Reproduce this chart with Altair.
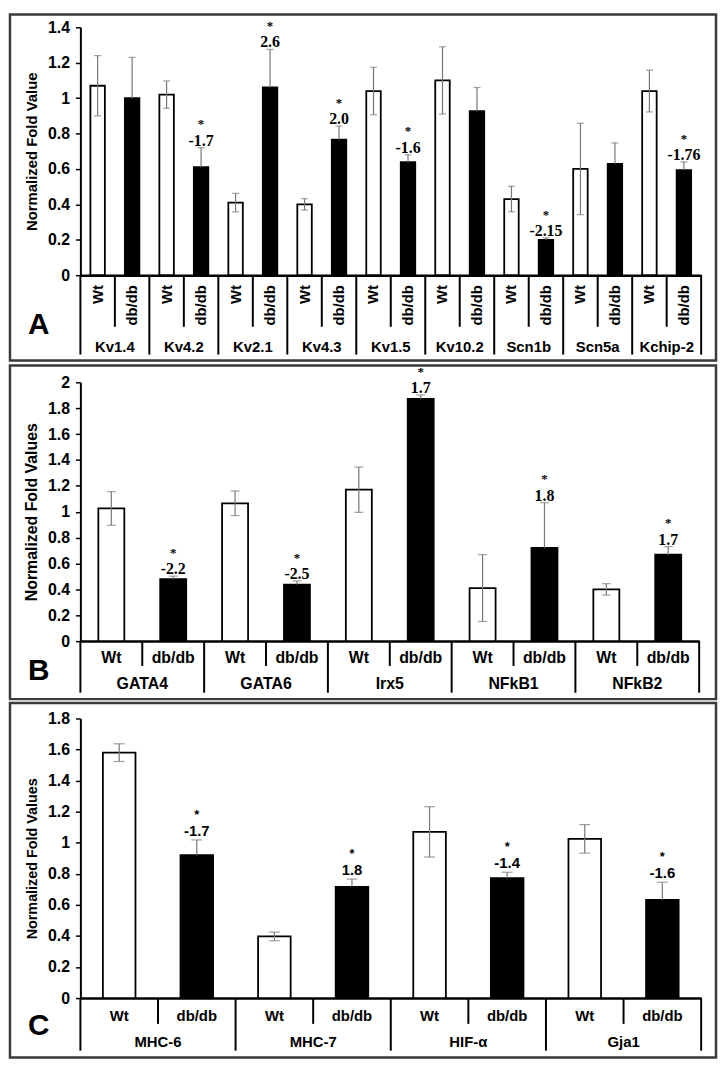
import altair as alt
import pandas as pd

GROUPS = ["Wt", "db/db"]

# ---------------- Panel A ----------------
A_genes = ["Kv1.4", "Kv4.2", "Kv2.1", "Kv4.3", "Kv1.5", "Kv10.2", "Scn1b", "Scn5a", "Kchip-2"]
A_wt = [1.07, 1.02, 0.41, 0.40, 1.04, 1.10, 0.43, 0.60, 1.04]
A_wt_err = [0.17, 0.077, 0.052, 0.032, 0.134, 0.19, 0.072, 0.258, 0.118]
A_db = [1.00, 0.61, 1.06, 0.765, 0.638, 0.926, 0.20, 0.629, 0.594]
A_db_err = [0.23, 0.11, 0.215, 0.077, 0.042, 0.134, 0.011, 0.118, 0.046]
A_fold = ["", "-1.7", "2.6", "2.0", "-1.6", "", "-2.15", "", "-1.76"]
A_ticks = [0, 0.2, 0.4, 0.6, 0.8, 1, 1.2, 1.4]

# ---------------- Panel B ----------------
B_genes = ["GATA4", "GATA6", "Irx5", "NFkB1", "NFkB2"]
B_wt = [1.025, 1.065, 1.17, 0.41, 0.40]
B_wt_err = [0.13, 0.095, 0.175, 0.258, 0.044]
B_db = [0.478, 0.437, 1.872, 0.72, 0.668]
B_db_err = [0.024, 0.028, 0.03, 0.35, 0.062]
B_fold = ["-2.2", "-2.5", "1.7", "1.8", "1.7"]
B_ticks = [0, 0.2, 0.4, 0.6, 0.8, 1, 1.2, 1.4, 1.6, 1.8, 2]

# ---------------- Panel C ----------------
C_genes = ["MHC-6", "MHC-7", "HIF-\u03b1", "Gja1"]
C_wt = [1.58, 0.397, 1.07, 1.025]
C_wt_err = [0.057, 0.028, 0.162, 0.092]
C_db = [0.92, 0.716, 0.772, 0.632]
C_db_err = [0.098, 0.05, 0.038, 0.114]
C_fold = ["-1.7", "1.8", "-1.4", "-1.6"]
C_ticks = [0, 0.2, 0.4, 0.6, 0.8, 1, 1.2, 1.4, 1.6, 1.8]

SANS = "Liberation Sans"
SERIF = "Liberation Serif"
BAR = 0.42  # bar width as fraction of a slot


def build_frames(genes, wt, wt_err, db, db_err, folds):
    rows = []
    for g, gene in enumerate(genes):
        for k, grp in enumerate(GROUPS):
            i = 2 * g + k
            v = wt[g] if k == 0 else db[g]
            e = wt_err[g] if k == 0 else db_err[g]
            f = folds[g] if k == 1 else ""
            rows.append(dict(
                gene=gene, group=grp, center=i + 0.5,
                x0=i + 0.5 - BAR / 2, x1=i + 0.5 + BAR / 2,
                value=v, err=e, upper=v + e,
                lower=(v - e) if k == 0 else v,
                fold=f, star="*" if f else "",
            ))
    bars = pd.DataFrame(rows)
    n = 2 * len(genes)
    divs = pd.DataFrame({"pos": list(range(n + 1)),
                         "kind": ["gene" if p % 2 == 0 else "short" for p in range(n + 1)]})
    gl = pd.DataFrame({"gene": genes, "center": [2 * g + 1 for g in range(len(genes))]})
    return bars, divs, gl, n


def make_panel(genes, wt, wt_err, db, db_err, folds, ticks, cfg):
    bars, divs, gl, n = build_frames(genes, wt, wt_err, db, db_err, folds)
    W, H = cfg["W"], cfg["H"]
    xs = alt.Scale(domain=[0, n], nice=False, zero=False)
    ys = alt.Scale(domain=[0, cfg["ymax"]], nice=False, zero=True)
    xaxis = alt.Axis(domain=True, domainColor="black", domainWidth=2.5, ticks=False,
                     labels=False, grid=False, title=None)
    yaxis = alt.Axis(values=ticks, format="~g", domainColor="black", domainWidth=2,
                     tickColor="black", tickSize=5, tickWidth=1.5, labelPadding=6,
                     labelFont=SANS, labelFontWeight="bold", labelFontSize=16,
                     labelColor="black", title=cfg["title"], titleFont=SANS,
                     titleFontWeight="bold", titleFontSize=cfg["title_size"],
                     titleColor="black", titlePadding=cfg["title_pad"], grid=False)

    base = alt.Chart(bars)
    bar_layer = base.mark_bar(stroke="black", strokeWidth=1.8).encode(
        x=alt.X("x0:Q", scale=xs, axis=xaxis),
        x2="x1:Q",
        y=alt.Y("value:Q", scale=ys, axis=yaxis),
        y2=alt.datum(0),
        fill=alt.Fill("group:N", scale=alt.Scale(domain=GROUPS, range=["white", "black"]),
                      legend=None),
    )
    err = base.mark_rule(color="#777777", strokeWidth=1.2).encode(
        x=alt.X("center:Q", scale=xs, axis=xaxis),
        y=alt.Y("lower:Q", scale=ys, axis=yaxis),
        y2="upper:Q",
    )
    cap_top = base.mark_tick(orient="horizontal", size=cfg["cap"], thickness=1.2,
                             color="#777777").encode(
        x=alt.X("center:Q", scale=xs, axis=xaxis),
        y=alt.Y("upper:Q", scale=ys, axis=yaxis),
    )
    cap_bot = base.mark_tick(orient="horizontal", size=cfg["cap"], thickness=1.2,
                             color="#777777").encode(
        x=alt.X("center:Q", scale=xs, axis=xaxis),
        y=alt.Y("lower:Q", scale=ys, axis=yaxis),
    ).transform_filter(alt.datum.group == "Wt")
    num = base.mark_text(font=cfg["ann_font"], fontSize=cfg["ann_size"], fontWeight="bold",
                         baseline="alphabetic", align="center", dy=cfg["num_dy"],
                         color="black").encode(
        x=alt.X("center:Q", scale=xs, axis=xaxis),
        y=alt.Y("upper:Q", scale=ys, axis=yaxis),
        text="fold:N",
    )
    star = base.mark_text(font=cfg["ann_font"], fontSize=13, fontWeight="bold",
                          baseline="alphabetic", align="center", dy=cfg["star_dy"],
                          color="black").encode(
        x=alt.X("center:Q", scale=xs, axis=xaxis),
        y=alt.Y("upper:Q", scale=ys, axis=yaxis),
        text="star:N",
    )

    dbase = alt.Chart(divs)
    short_div = dbase.mark_rule(color="black", strokeWidth=2).encode(
        x=alt.X("pos:Q", scale=xs, axis=xaxis),
        y=alt.value(H), y2=alt.value(H + cfg["short_len"]),
    ).transform_filter(alt.datum.kind == "short")
    long_div = dbase.mark_rule(color="black", strokeWidth=2).encode(
        x=alt.X("pos:Q", scale=xs, axis=xaxis),
        y=alt.value(H), y2=alt.value(H + cfg["long_len"]),
    ).transform_filter(alt.datum.kind == "gene")

    if cfg["rotated"]:
        grp_text = base.mark_text(font=SANS, fontSize=cfg["grp_size"], fontWeight="bold",
                                  angle=270, align="right", baseline="middle",
                                  color="black").encode(
            x=alt.X("center:Q", scale=xs, axis=xaxis),
            y=alt.value(H + cfg["grp_y"]),
            text="group:N",
        )
    else:
        grp_text = base.mark_text(font=SANS, fontSize=cfg["grp_size"], fontWeight="bold",
                                  align="center", baseline="middle", color="black").encode(
            x=alt.X("center:Q", scale=xs, axis=xaxis),
            y=alt.value(H + cfg["grp_y"]),
            text="group:N",
        )
    gene_text = alt.Chart(gl).mark_text(font=SANS, fontSize=cfg["gene_size"], fontWeight="bold",
                                        align="center", baseline="middle",
                                        color="black").encode(
        x=alt.X("center:Q", scale=xs, axis=xaxis),
        y=alt.value(H + cfg["gene_y"]),
        text="gene:N",
    )

    one = alt.Chart(pd.DataFrame({"letter": [cfg["letter"]]}))
    letter = one.mark_text(font=SANS, fontSize=30, fontWeight="bold", align="center",
                           baseline="middle", color="black").encode(
        x=alt.value(cfg["letter_x"]), y=alt.value(cfg["letter_y"]), text="letter:N")
    border = one.mark_rect(fillOpacity=0, stroke="#3a3a3a", strokeWidth=2.5).encode(
        x=alt.value(-71), x2=alt.value(641),
        y=alt.value(cfg["b_top"]), y2=alt.value(cfg["b_bot"]))

    return alt.layer(bar_layer, err, cap_top, cap_bot, num, star, short_div, long_div,
                     grp_text, gene_text, letter, border).properties(width=W, height=H)


cfgA = dict(W=626, H=250, ymax=1.4, title="Normalized Fold Value", title_size=15, title_pad=8,
            rotated=True, grp_y=10, grp_size=15, gene_y=72, gene_size=15,
            short_len=52, long_len=80, ann_font=SERIF, ann_size=16, num_dy=-2, star_dy=-19.5,
            letter="A", letter_x=-42, letter_y=300, b_top=-13, b_bot=336, cap=7)
cfgB = dict(W=624, H=261, ymax=2.0, title="Normalized Fold Values", title_size=16, title_pad=8,
            rotated=False, grp_y=17, grp_size=16, gene_y=43, gene_size=16,
            short_len=25, long_len=52, ann_font=SERIF, ann_size=16, num_dy=-2, star_dy=-19.5,
            letter="B", letter_x=-42, letter_y=291, b_top=-17, b_bot=319.5, cap=9)
cfgC = dict(W=626, H=282, ymax=1.8, title="Normalized Fold Values", title_size=14.5, title_pad=8,
            rotated=False, grp_y=18, grp_size=15, gene_y=44, gene_size=15,
            short_len=26, long_len=53, ann_font=SANS, ann_size=15, num_dy=-4, star_dy=-21,
            letter="C", letter_x=-42, letter_y=310, b_top=-15.7, b_bot=342, cap=11)

pA = make_panel(A_genes, A_wt, A_wt_err, A_db, A_db_err, A_fold, A_ticks, cfgA)
pB = make_panel(B_genes, B_wt, B_wt_err, B_db, B_db_err, B_fold, B_ticks, cfgB)
pC = make_panel(C_genes, C_wt, C_wt_err, C_db, C_db_err, C_fold, C_ticks, cfgC)

chart = alt.vconcat(pA, pB, pC, spacing=1, bounds="full").properties(
    padding=0, background="white"
).configure_view(stroke=None).configure_axis(grid=False)

chart.save("out.html", embed_options={"renderer": "svg", "actions": False})
